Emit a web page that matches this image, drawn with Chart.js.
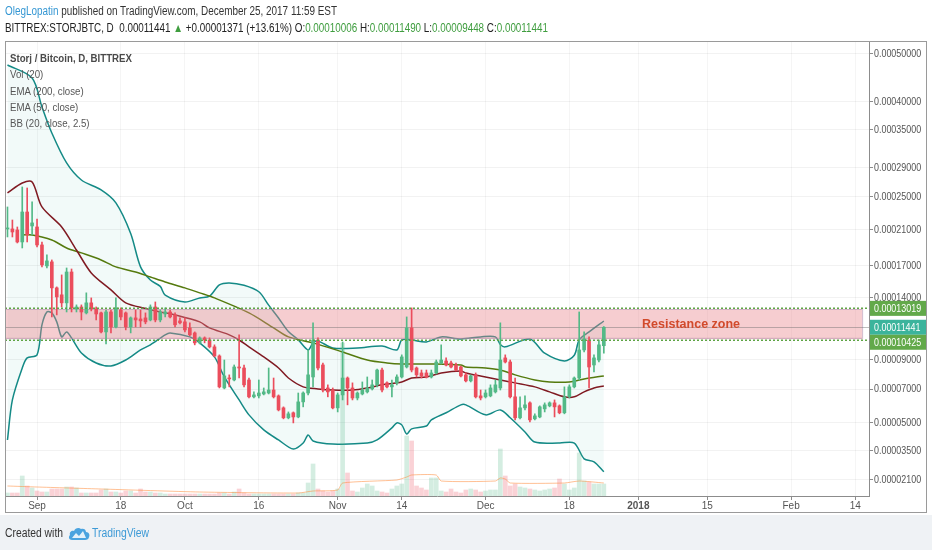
<!DOCTYPE html>
<html>
<head>
<meta charset="utf-8">
<title>STORJBTC daily</title>
<script src="https://cdn.jsdelivr.net/npm/chart.js@4.4.1/dist/chart.umd.min.js"></script>
<style>
  html, body { margin: 0; padding: 0; background: #fff; }
  #wrap { position: relative; width: 932px; height: 550px; overflow: hidden;
          font-family: 'Liberation Sans', Arial, sans-serif; }
  #foot { position: absolute; left: 0; top: 515px; width: 932px; height: 35px; background: #eff2f5; }
  #chart { position: absolute; left: 0; top: 0; }
  .txt { position: absolute; white-space: nowrap; line-height: 14px; color: #333; transform-origin: 0 50%; }
  #line1 { left: 5px; top: 4px; font-size: 12px; }
  #line1 .user { color: #3597d3; }
  #quote { left: 5px; top: 21px; font-size: 12px; color: #222; }
  #quote .up { color: #3f9d3f; }
  .leg { left: 10px; font-size: 11.5px; color: #555; }
  .leg.title { font-weight: bold; color: #4a4a4a; }
  #created { left: 5px; top: 526px; font-size: 12px; }
  #logo { position: absolute; left: 68px; top: 525px; }
  #tvname { left: 92px; top: 526px; font-size: 12.5px; color: #3d9ad6; }
</style>
</head>
<body>
<div id="wrap">
  <div id="foot"></div>
  <canvas id="chart" width="932" height="550"></canvas>
  <div class="txt" id="line1"><span class="user">OlegLopatin</span> published on TradingView.com, December 25, 2017 11:59 EST</div>
  <div class="txt" id="quote"></div>
  <div class="txt leg title" id="legTitle" style="top:51px">Storj / Bitcoin, D, BITTREX</div>
  <div class="txt leg" style="top:67px">Vol (20)</div>
  <div class="txt leg" style="top:84px">EMA (200, close)</div>
  <div class="txt leg" style="top:100px">EMA (50, close)</div>
  <div class="txt leg" style="top:116px">BB (20, close, 2.5)</div>
  <div class="txt" id="created">Created with</div>
  <svg id="logo" width="22" height="17" viewBox="0 0 22 17">
    <path d="M4 15 C1 15 0 12 2 10 C1 7 4 5 6 6 C7 3 11 2 13 4 C15 3 18 4 18 7 C21 7 22 10 21 12 C21 14 19 15 17 15 Z" fill="#4aa3df"/>
    <path d="M4 13 L8 8 L11 11 L15 6 L18 13 Z" fill="#ffffff" opacity="0.85"/>
  </svg>
  <div class="txt" id="tvname">TradingView</div>
</div>
<script>
// prices are in satoshi (1e-8 BTC); day 0 = 1 Sep 2017, first candle is 26 Aug
const FIRST_DAY = -6;

const opens = [
  21020, 21020, 20900, 19540, 23060, 21370, 21250, 19210, 17000, 17410,
  14860, 14220, 13500, 16390, 12970, 13140, 12630, 13500, 12970, 12630,
  11070, 12710, 11470, 12880, 12630, 11470, 12210, 12120, 12210, 12040,
  13140, 12040, 12540, 12710, 12460, 11960, 11880, 11390, 10990, 10220,
  10600, 10440, 9920, 9250, 7070, 7720, 7590, 8470, 8400, 7590,
  6510, 6570, 6690, 6750, 6940, 6570, 5840, 5260, 5550, 5310,
  6200, 6750, 7790, 10440, 8610, 7070, 6940, 5840, 6630, 7720,
  7070, 6440, 6690, 6820, 7010, 7270, 8260, 7400, 7140, 7400,
  7790, 8470, 11390, 8400, 8060, 8060, 7790, 8060, 8750, 8890,
  8750, 8610, 8470, 7930, 7530, 7930, 6570, 6510, 6570, 6820,
  7070, 9110, 8820, 6510, 5260, 5840, 6140, 5200, 5310, 5780,
  5960, 6140, 5960, 5550, 6510, 7140, 7720, 9690, 10440, 8610,
  8960, 10006
];
const highs = [
  23690, 22080, 21250, 26320, 26180, 24330, 22200, 19540, 18140, 17610,
  14950, 16100, 16790, 16690, 13320, 13320, 14400, 13940, 13140, 12710,
  12880, 12880, 13940, 13060, 12710, 12290, 12880, 12880, 12630, 13320,
  13580, 12880, 13060, 12880, 12630, 12210, 12210, 11800, 11070, 10680,
  10680, 10600, 10070, 9330, 8960, 7930, 8610, 10840, 8610, 7720,
  6820, 7590, 7070, 8400, 7720, 6630, 5900, 5600, 5600, 6750,
  6820, 9690, 11800, 10600, 8750, 7270, 7070, 6750, 10290, 7790,
  7400, 6820, 7460, 7790, 7590, 8330, 8400, 7460, 7590, 7930,
  9330, 12290, 13060, 8470, 8260, 8260, 8260, 8960, 10070, 9110,
  8890, 8750, 8540, 8060, 7930, 8060, 6940, 6940, 7270, 7590,
  11800, 9330, 8960, 7720, 6510, 6570, 6200, 5490, 5960, 6140,
  6200, 6320, 6020, 7140, 7270, 7790, 12710, 11070, 10680, 9330,
  10440, 11490
];
const lows = [
  20100, 20100, 19430, 18880, 19540, 20330, 18990, 16900, 16790, 12290,
  12460, 13140, 12710, 12710, 12710, 12040, 12540, 12800, 12040, 10990,
  10140, 10990, 11390, 12040, 11230, 10990, 11470, 11470, 11720, 11960,
  11880, 11880, 12290, 12210, 11470, 11720, 11070, 10760, 10070, 10140,
  10220, 9840, 9180, 7070, 7010, 7140, 7530, 7720, 7140, 6440,
  6440, 6440, 6630, 6690, 6440, 5660, 5200, 5200, 4970, 5260,
  5900, 6630, 7140, 8260, 6820, 6510, 5780, 5600, 6320, 6020,
  6320, 6320, 6630, 6750, 6940, 7140, 6820, 7070, 6510, 7270,
  7720, 8400, 8130, 7790, 7720, 7720, 7720, 7990, 8680, 8540,
  8400, 8190, 7790, 7460, 7460, 6440, 6320, 6440, 6510, 6750,
  6940, 8750, 6440, 5140, 5200, 5720, 5030, 5140, 5260, 5600,
  5900, 5310, 5490, 5490, 6440, 7070, 7590, 9540, 7070, 8130,
  8820, 9448
];
const closes = [
  21140, 20670, 19540, 23060, 20330, 21730, 19210, 17100, 17510, 14860,
  14030, 13500, 16390, 13060, 13140, 12710, 13500, 12970, 12540, 11070,
  12710, 11470, 13060, 12290, 11470, 12210, 12040, 11960, 11880, 13140,
  12040, 12710, 12710, 12290, 11640, 11800, 11230, 10840, 10220, 10600,
  10440, 9920, 9250, 7140, 7860, 7660, 8470, 8400, 7270, 6510,
  6630, 6750, 6820, 6940, 6510, 5720, 5260, 5490, 5310, 6200,
  6750, 7930, 10440, 8400, 6940, 6820, 5840, 6630, 7720, 7070,
  6440, 6750, 6940, 7070, 7270, 8260, 6940, 7140, 7270, 7790,
  9180, 11390, 8260, 7930, 7860, 7790, 8060, 8820, 8960, 8610,
  8470, 8260, 7860, 7530, 7860, 6510, 6440, 6750, 7070, 7270,
  8960, 8820, 6510, 5260, 5840, 6020, 5140, 5370, 5900, 6020,
  6140, 5900, 5550, 6510, 7140, 7720, 9690, 10520, 8470, 9110,
  10070, 11441
];
// volume, BTC
const volumes = [
  6, 6, 6, 40, 20, 16, 10, 8, 8, 14,
  14, 14, 18, 18, 16, 6, 6, 6, 6, 12,
  14, 8, 8, 6, 10, 10, 6, 14, 8, 8,
  6, 6, 4, 4, 4, 4, 4, 4, 4, 4,
  4, 4, 4, 6, 6, 4, 8, 14, 6, 4,
  4, 4, 4, 4, 4, 4, 4, 4, 4, 6,
  6, 26, 64, 14, 10, 8, 10, 14, 306, 46,
  10, 8, 16, 24, 20, 10, 8, 6, 14, 20,
  24, 120, 110, 20, 16, 12, 36, 36, 10, 8,
  14, 8, 6, 12, 14, 12, 8, 10, 12, 12,
  94, 40, 20, 24, 18, 16, 14, 12, 10, 12,
  14, 16, 34, 24, 12, 16, 86, 30, 28, 24,
  24, 24
];
const volMaDays = [-6, 0, 13, 33, 53, 56, 61, 62, 73, 75, 76, 81, 82, 93, 94, 95, 96, 107, 110, 115];
const volMaVals = [20, 18, 14, 8, 6, 10, 12, 26, 32, 38, 42, 42, 30, 30, 36, 34, 26, 26, 30, 26];

const ema50Days = [-6, -3, -1, 1, 5, 8, 11, 15, 18, 22, 25, 28, 33, 35, 39, 41, 43, 46, 49, 51, 54, 57, 60, 64,
  67, 70, 74, 76, 79, 82, 86, 87, 91, 94, 97, 101, 104, 107, 109, 111, 113, 115];
const ema50Vals = [25510, 26870, 27010, 23690, 21250, 18660, 16300, 14670, 13500, 13000, 12710, 12460, 11880, 11390,
  10840, 10440, 9920, 9180, 8400, 7720, 7140, 7010, 6940, 6940, 7070, 7270, 7460, 7720, 7790, 8060, 8190, 8060,
  7790, 7590, 7400, 7140, 6820, 6510, 6510, 6820, 7070, 7200];

const ema200Days = [-3, -1, 3, 6, 9, 13, 16, 20, 23, 26, 30, 33, 36, 43, 48, 51, 56, 62, 67, 71, 74, 80, 86, 87,
  91, 94, 97, 101, 104, 108, 111, 115];
const ema200Vals = [20330, 20330, 19760, 18880, 18350, 17610, 16900, 16390, 15900, 15420, 14860, 14400, 13940,
  12630, 11390, 10680, 10220, 9540, 8960, 8750, 8680, 8680, 8610, 8470, 8400, 8260, 7930, 7590, 7460, 7460,
  7660, 7860];

const bbUpperDays = [-6, -1, 1, 3, 6, 9, 13, 16, 19, 21, 23, 25, 26, 30, 33, 35, 37, 39, 42, 45, 47, 49, 51, 53,
  55, 56, 57, 60, 65, 70, 73, 74, 76, 79, 82, 86, 90, 93, 94, 95, 100, 103, 107, 109, 110, 112, 115];
const bbUpperVals = [47430, 44690, 39050, 34490, 29750, 27280, 25910, 24210, 20500, 16900, 15600, 15000, 14200,
  13580, 13940, 14100, 15140, 15330, 15100, 14500, 13300, 12200, 11100, 10450, 9690, 10220, 10370, 9840, 9840,
  9990, 9690, 10440, 10440, 10290, 10680, 10520, 10680, 10680, 10100, 9920, 10520, 9450, 8890, 9300, 10440,
  11070, 11950];

const bbLowerDays = [-6, -5, -3, -2, 0, 1, 2, 3, 4, 5, 6, 7, 9, 12, 15, 18, 21, 23, 26, 27, 31, 33, 36, 38, 41,
  43, 46, 49, 52, 54, 55, 56, 60, 67, 69, 72, 73, 74, 75, 76, 79, 80, 83, 86, 87, 91, 94, 96, 99, 101, 106, 109,
  111, 113, 115];
const bbLowerVals = [4040, 6320, 8400, 9110, 9330, 11640, 12710, 12630, 11880, 10680, 11070, 10600, 9470, 8750,
  8540, 8960, 9690, 10070, 10840, 10990, 10680, 10220, 9180, 7790, 6320, 5430, 4580, 4040, 3570, 3880, 4310,
  3990, 3830, 3880, 4040, 4690, 4970, 4860, 4360, 4640, 4800, 5140, 5550, 6020, 6020, 5430, 5720, 5260, 4470,
  3930, 3880, 3880, 3080, 2930, 2460];

const priceTicks = [50000, 40000, 35000, 29000, 25000, 21000, 17000, 14000, 9000, 7000, 5000, 3500, 2100];
const dateTickDays = [0, 17, 30, 45, 61, 74, 91, 108, 122, 136, 153, 166];
const dateTickLabels = ['Sep', '18', 'Oct', '16', 'Nov', '14', 'Dec', '18', '2018', '15', 'Feb', '14'];

// resistance zone drawing
const zoneTop = 13019;
const zoneBottom = 10425;
const zoneEndDay = 167.4;
const zoneLabelDay = 132.7;

const PRICE_MIN = 1376, PRICE_MAX = 52840;
const DAY_MIN = -6.5, DAY_MAX = 168.8;

const UP = '#53b987', DOWN = '#eb4d5c';
const FONT = "'Liberation Sans', Arial, sans-serif";
const fmt = v => (v / 1e8).toFixed(8);

// header quote line from the last two candles
const last = closes.length - 1;
const change = closes[last] - closes[last - 1];
document.getElementById('quote').innerHTML =
  `BITTREX:STORJBTC, D&nbsp; ${fmt(closes[last])} <span class="up">&#9650;</span> +${fmt(change)} ` +
  `(+${(change / closes[last - 1] * 100).toFixed(2)}%) O:<span class="up">${fmt(opens[last])}</span> ` +
  `H:<span class="up">${fmt(highs[last])}</span> L:<span class="up">${fmt(lows[last])}</span> ` +
  `C:<span class="up">${fmt(closes[last])}</span>`;

// the TradingView font is condensed: squeeze each text line to its width in the picture
function squeeze(el, width) {
  const w = el.getBoundingClientRect().width;
  el.style.transform = `scaleX(${width / w})`;
  return width / w;
}
squeeze(document.getElementById('line1'), 332);
squeeze(document.getElementById('quote'), 543);
const legScale = squeeze(document.getElementById('legTitle'), 122);
document.querySelectorAll('.leg:not(.title)').forEach(el => { el.style.transform = `scaleX(${legScale})`; });
squeeze(document.getElementById('created'), 58);
squeeze(document.getElementById('tvname'), 57);

// TradingView style log scale: log10(price + offset)
const LOG_OFFSET = 10000;
const tvLog = v => Math.log10(v + LOG_OFFSET);

class TvLogScale extends Chart.LinearScale {
  determineDataLimits() {
    this.min = this.options.min;
    this.max = this.options.max;
  }
  buildTicks() {
    return priceTicks.map(v => ({ value: v }));
  }
  configure() {
    Chart.Scale.prototype.configure.call(this);
    this._startValue = tvLog(this.min);
    this._endValue = tvLog(this.max);
    this._valueRange = this._endValue - this._startValue;
  }
  getPixelForValue(value) {
    return this.getPixelForDecimal((tvLog(value) - this._startValue) / this._valueRange);
  }
  getValueForPixel(pixel) {
    return Math.pow(10, this._startValue + this.getDecimalForPixel(pixel) * this._valueRange) - LOG_OFFSET;
  }
}
TvLogScale.id = 'tvlog';
TvLogScale.defaults = {};
Chart.register(TvLogScale);

const candleColors = closes.map((c, i) => c >= opens[i] ? UP : DOWN);
const volColors = closes.map((c, i) => c >= opens[i] ? 'rgba(83,185,135,0.25)' : 'rgba(235,77,92,0.25)');
const pairs = (days, vals) => days.map((d, i) => ({ x: d, y: vals[i] }));

// narrow price text on the right axis
function axisText(ctx, text, x, y, color) {
  ctx.save();
  ctx.translate(x, y);
  ctx.scale(0.85, 1);
  ctx.fillStyle = color;
  ctx.fillText(text, 0, 0);
  ctx.restore();
}

const tvDecor = {
  id: 'tvDecor',
  beforeDraw(chart) {
    const ctx = chart.ctx;
    ctx.save();
    ctx.fillStyle = '#ffffff';
    ctx.fillRect(5, 41, 922, 471);
    ctx.restore();
  },
  beforeDatasetDraw(chart, args) {
    if (chart.data.datasets[args.index].label !== 'wicks') return;
    const { ctx, chartArea, scales } = chart;
    const y1 = scales.y.getPixelForValue(zoneTop);
    const y2 = scales.y.getPixelForValue(zoneBottom);
    const x2 = scales.x.getPixelForValue(zoneEndDay);
    ctx.save();
    ctx.fillStyle = 'rgba(232,130,137,0.4)';
    ctx.fillRect(chartArea.left, y1 + 1, x2 - chartArea.left, y2 - y1 - 2);
    ctx.strokeStyle = 'rgba(175,135,170,0.55)';
    ctx.lineWidth = 1;
    ctx.strokeRect(chartArea.left + 0.5, Math.round(y1) + 1.5, x2 - chartArea.left, y2 - y1 - 3);
    // last price line
    const yp = Math.round(scales.y.getPixelForValue(closes[last])) + 0.5;
    ctx.strokeStyle = 'rgba(110,110,110,0.45)';
    ctx.beginPath();
    ctx.moveTo(chartArea.left, yp);
    ctx.lineTo(chartArea.right, yp);
    ctx.stroke();
    ctx.restore();
  },
  afterDatasetsDraw(chart) {
    const { ctx, chartArea, scales } = chart;
    const y1 = scales.y.getPixelForValue(zoneTop);
    const y2 = scales.y.getPixelForValue(zoneBottom);
    ctx.save();
    ctx.strokeStyle = '#5ea445';
    ctx.lineWidth = 1.5;
    ctx.setLineDash([2, 2]);
    [y1, y2].forEach(y => {
      ctx.beginPath();
      ctx.moveTo(chartArea.left, y);
      ctx.lineTo(chartArea.right, y);
      ctx.stroke();
    });
    ctx.setLineDash([]);
    ctx.fillStyle = '#d24a2c';
    ctx.font = "bold 12.5px 'Liberation Sans', sans-serif";
    ctx.textAlign = 'center';
    ctx.textBaseline = 'middle';
    ctx.fillText('Resistance zone', scales.x.getPixelForValue(zoneLabelDay), (y1 + y2) / 2);
    ctx.restore();
  },
  afterDraw(chart) {
    const { ctx, chartArea, scales } = chart;
    ctx.save();
    ctx.font = '10.5px ' + FONT;
    ctx.textBaseline = 'middle';
    ctx.textAlign = 'left';
    priceTicks.forEach(v => {
      axisText(ctx, fmt(v), chartArea.right + 5, scales.y.getPixelForValue(v) + 0.5, '#555');
    });
    const tags = [
      { v: zoneTop, bg: '#62a94a' },
      { v: closes[last], bg: '#3bb49c' },
      { v: zoneBottom, bg: '#62a94a' }
    ];
    let prev = -Infinity;
    tags.forEach(t => {
      let y = scales.y.getPixelForValue(t.v);
      if (y - prev < 15) y = prev + 15;
      prev = y;
      ctx.fillStyle = t.bg;
      ctx.fillRect(chartArea.right + 1, y - 7.5, 56, 15);
      axisText(ctx, fmt(t.v), chartArea.right + 5, y + 0.5, '#ffffff');
    });
    ctx.strokeStyle = '#9a9a9a';
    ctx.lineWidth = 1;
    ctx.strokeRect(5.5, 41.5, 921, 471);
    ctx.restore();
  }
};

Chart.defaults.font.family = FONT;

new Chart(document.getElementById('chart'), {
  type: 'bar',
  data: {
    datasets: [
      {
        type: 'line', label: 'bbUpper', data: pairs(bbUpperDays, bbUpperVals), yAxisID: 'y',
        borderColor: '#148a86', borderWidth: 1.5, pointRadius: 0, tension: 0.3, order: 10
      },
      {
        type: 'line', label: 'bbLower', data: pairs(bbLowerDays, bbLowerVals), yAxisID: 'y',
        borderColor: '#148a86', borderWidth: 1.5, pointRadius: 0, tension: 0.3, order: 10,
        fill: '-1', backgroundColor: 'rgba(38,166,154,0.06)'
      },
      {
        label: 'volume', yAxisID: 'yv', order: 9, grouped: false, barThickness: 4,
        data: volumes.map((v, i) => ({ x: i + FIRST_DAY, y: v })),
        backgroundColor: volColors, borderWidth: 0
      },
      {
        type: 'line', label: 'volMa', data: pairs(volMaDays, volMaVals), yAxisID: 'yv',
        borderColor: 'rgba(255,140,60,0.55)', borderWidth: 1, pointRadius: 0, tension: 0.2, order: 8
      },
      {
        type: 'line', label: 'ema200', data: pairs(ema200Days, ema200Vals), yAxisID: 'y',
        borderColor: '#557a0e', borderWidth: 1.5, pointRadius: 0, tension: 0.3, order: 7
      },
      {
        type: 'line', label: 'ema50', data: pairs(ema50Days, ema50Vals), yAxisID: 'y',
        borderColor: '#801a22', borderWidth: 1.5, pointRadius: 0, tension: 0.3, order: 6
      },
      {
        label: 'wicks', yAxisID: 'y', order: 2, grouped: false, barThickness: 1,
        data: lows.map((l, i) => ({ x: i + FIRST_DAY, y: [l, highs[i]] })),
        backgroundColor: candleColors, borderWidth: 0
      },
      {
        label: 'bodies', yAxisID: 'y', order: 1, grouped: false, barThickness: 3, minBarLength: 1,
        data: opens.map((o, i) => ({ x: i + FIRST_DAY, y: [o, closes[i]] })),
        backgroundColor: candleColors, borderWidth: 0
      }
    ]
  },
  options: {
    responsive: false,
    animation: false,
    events: [],
    layout: { padding: { left: 5, top: 41, right: 5, bottom: 38 } },
    plugins: { legend: { display: false }, tooltip: { enabled: false } },
    scales: {
      x: {
        type: 'linear', min: DAY_MIN, max: DAY_MAX, offset: false,
        afterBuildTicks: s => { s.ticks = dateTickDays.map(v => ({ value: v })); },
        afterFit: s => { s.height = 16; },
        grid: { color: 'rgba(0,0,0,0.04)', tickLength: 4, tickColor: '#8c8c8c', offset: false },
        border: { color: '#8c8c8c' },
        ticks: {
          autoSkip: false, maxRotation: 0, padding: 0, color: '#555',
          font: ctx => ({ family: FONT, size: 10, weight: dateTickLabels[ctx.index] === '2018' ? 'bold' : 'normal' }),
          callback: (v, i) => dateTickLabels[i]
        }
      },
      y: {
        type: 'tvlog', position: 'right', min: PRICE_MIN, max: PRICE_MAX,
        afterFit: s => { s.width = 58; },
        grid: { color: 'rgba(0,0,0,0.05)', tickLength: 4, tickColor: '#8c8c8c' },
        border: { color: '#8c8c8c' },
        ticks: { display: false }
      },
      yv: { type: 'linear', display: false, min: 0, max: 910 }
    }
  },
  plugins: [tvDecor]
});
</script>
</body>
</html>
